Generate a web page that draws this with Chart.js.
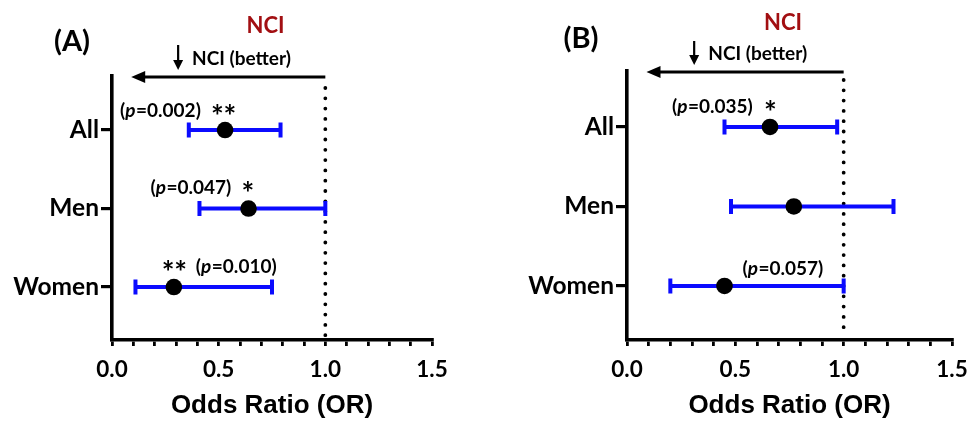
<!DOCTYPE html>
<html><head><meta charset="utf-8">
<script src="https://cdn.jsdelivr.net/npm/chart.js@4.4.1/dist/chart.umd.min.js"></script>
<style>
html,body{margin:0;padding:0;background:#fff;overflow:hidden;width:968px;height:421px}
#wrap{position:relative;width:968px;height:421px;overflow:hidden;background:#fff}
canvas{position:absolute;top:0}
</style></head><body>
<div id="wrap">
<canvas id="cA" width="484" height="421" style="left:0"></canvas>
<canvas id="cB" width="520" height="421" style="left:484px"></canvas>
</div>
<script>
// ---- data ----
const categories = ['All', 'Men', 'Women'];
const orA   = [0.53, 0.64, 0.29];
const lowA  = [0.36, 0.41, 0.11];
const highA = [0.79, 1.00, 0.75];
const pA     = ['0.002', '0.047', '0.010'];
const starsA = ['**', '*', '**'];
const orB   = [0.66, 0.77, 0.45];
const lowB  = [0.45, 0.48, 0.20];
const highB = [0.97, 1.23, 1.00];
const pB     = ['0.035', '', '0.057'];
const starsB = ['*', '', ''];
const xTickLabels = ['0.0', '0.5', '1.0', '1.5'];
const xMin = 0, xMax = 1.5, xStep = 0.1;
const refValue = 1.0;
const arrowTipValue = 0.09;
const axisTitle = 'Odds Ratio (OR)';
const headline = 'NCI';
const betterText = 'NCI (better)';

const F = 'Lato, "Open Sans", sans-serif';
const BLUE = '#0b0bff';
const RED = '#a20f12';

// layout per panel (pixels in each canvas)
const panels = [
  { id: 'cA', tag: '(A)', W: 484, L: 112, R: 432, T: 76, B: 340, yMin: -0.688, yMax: 2.675,
    tagX: 72, tagY: 51, nciY: 33, betterY: 65, downTop: 45, downBot: 70, arrowY: 77, dotTop: 88,
    or: orA, low: lowA, high: highA, p: pA, stars: starsA,
    ann: [ {pdx: -105, sdx: -13, dy: -13}, {pdx: -98, sdx: -6, dy: -15}, {pdx: 22, sdx: -11, dy: -14} ] },
  { id: 'cB', tag: '(B)', W: 520, L: 143, R: 468, T: 71, B: 340, yMin: -0.704, yMax: 2.68,
    tagX: 97, tagY: 48, nciY: 30, betterY: 60, downTop: 41, downBot: 65, arrowY: 72, dotTop: 80,
    or: orB, low: lowB, high: highB, p: pB, stars: starsB,
    ann: [ {pdx: -98, sdx: -5, dy: -14}, null, {pdx: 18, sdx: 0, dy: -11} ] }
];

const forestPlugin = {
  id: 'forest',
  beforeDatasetsDraw(chart, args, o) {
    const ctx = chart.ctx, xs = chart.scales.x, ys = chart.scales.y;
    ctx.save();
    // dotted reference line
    const xr = xs.getPixelForValue(refValue);
    ctx.strokeStyle = '#000'; ctx.lineWidth = 3.8; ctx.lineCap = 'round';
    ctx.setLineDash([0, 10.3]);
    ctx.beginPath(); ctx.moveTo(xr, o.dotTop); ctx.lineTo(xr, ys.bottom - 4); ctx.stroke();
    ctx.setLineDash([]);
    // error bars
    ctx.strokeStyle = BLUE; ctx.lineWidth = 4; ctx.lineCap = 'butt';
    o.low.forEach((lo, i) => {
      const y = ys.getPixelForValue(i);
      const a = xs.getPixelForValue(lo), b = xs.getPixelForValue(o.high[i]);
      ctx.beginPath();
      ctx.moveTo(a, y); ctx.lineTo(b, y);
      ctx.moveTo(a, y - 7.5); ctx.lineTo(a, y + 7.5);
      ctx.moveTo(b, y - 7.5); ctx.lineTo(b, y + 7.5);
      ctx.stroke();
    });
    ctx.restore();
  },
  afterDraw(chart, args, o) {
    const ctx = chart.ctx, xs = chart.scales.x, ys = chart.scales.y;
    ctx.save();
    ctx.fillStyle = '#000';
    ctx.textBaseline = 'alphabetic';
    // panel tag
    ctx.font = 'bold 29px ' + F; ctx.textAlign = 'center';
    ctx.fillText(o.tag, o.tagX, o.tagY);
    // NCI headline
    ctx.fillStyle = RED; ctx.font = 'bold 22px ' + F;
    ctx.fillText(headline, xs.getPixelForValue(0.72), o.nciY);
    // NCI (better)
    ctx.fillStyle = '#000'; ctx.font = 'bold 19px ' + F; ctx.textAlign = 'left';
    ctx.fillText(betterText, xs.getPixelForValue(0.375), o.betterY);
    // down arrow
    const dx = xs.getPixelForValue(0.31);
    ctx.strokeStyle = '#000'; ctx.lineWidth = 2.2;
    ctx.beginPath(); ctx.moveTo(dx, o.downTop); ctx.lineTo(dx, o.downBot - 6); ctx.stroke();
    ctx.beginPath(); ctx.moveTo(dx - 5, o.downBot - 10); ctx.lineTo(dx + 5, o.downBot - 10); ctx.lineTo(dx, o.downBot); ctx.closePath(); ctx.fill();
    // left arrow
    const x1 = xs.getPixelForValue(refValue), x0 = xs.getPixelForValue(arrowTipValue);
    ctx.lineWidth = 2.8;
    ctx.beginPath(); ctx.moveTo(x1, o.arrowY); ctx.lineTo(x0 + 8, o.arrowY); ctx.stroke();
    ctx.beginPath(); ctx.moveTo(x0, o.arrowY); ctx.lineTo(x0 + 14, o.arrowY - 6); ctx.lineTo(x0 + 14, o.arrowY + 6); ctx.closePath(); ctx.fill();
    // annotations
    o.ann.forEach((a, i) => {
      if (!a) return;
      const px = xs.getPixelForValue(o.or[i]), py = ys.getPixelForValue(i);
      const by = py + a.dy;
      if (o.p[i]) {
        let x = px + a.pdx;
        const runs = [['(', false], ['p', true], ['=' + o.p[i] + ')', false]];
        runs.forEach(([t, it]) => {
          ctx.font = (it ? 'italic ' : '') + 'bold 19px ' + F;
          ctx.fillText(t, x, by);
          x += ctx.measureText(t).width + (it ? 0.5 : 0);
        });
      }
      if (o.stars[i]) {
        ctx.font = 'bold 30px ' + F;
        let x = px + a.sdx - 1;
        for (const s of o.stars[i]) { ctx.fillText(s, x, by + 10); x += 12.5; }
      }
    });
    ctx.restore();
  }
};

panels.forEach(pn => {
  const canvas = document.getElementById(pn.id);
  new Chart(canvas, {
    type: 'scatter',
    data: {
      datasets: [{
        data: pn.or.map((v, i) => ({ x: v, y: i })),
        backgroundColor: '#000', borderColor: '#000', borderWidth: 0,
        pointRadius: 8.3, pointHoverRadius: 8.3
      }]
    },
    options: {
      responsive: false, animation: false, devicePixelRatio: 1,
      layout: { padding: { top: pn.T, right: pn.W - pn.R, left: 0, bottom: 0 } },
      plugins: {
        legend: { display: false }, tooltip: { enabled: false },
        forest: pn
      },
      scales: {
        x: {
          type: 'linear', min: xMin, max: xMax,
          afterFit: s => { s.height = 421 - pn.B; },
          ticks: {
            stepSize: xStep, autoSkip: false, maxRotation: 0, padding: 10,
            color: '#000', font: { family: F, size: 22.5, weight: 'bold' },
            callback: v => {
              const k = Math.round(v / 0.5);
              return Math.abs(v - k * 0.5) < 1e-6 ? xTickLabels[k] : '';
            }
          },
          grid: { drawOnChartArea: false, drawTicks: true, tickLength: 6, lineWidth: 2.8, color: '#000' },
          border: { display: true, width: 3.6, color: '#000' },
          title: { display: true, text: axisTitle, color: '#000', padding: { top: 0, bottom: 0 },
                   font: { family: '"Liberation Sans", Arial, sans-serif', size: 26, weight: 'bold' } }
        },
        y: {
          type: 'linear', reverse: true, min: pn.yMin, max: pn.yMax,
          afterFit: s => { s.width = pn.L; },
          afterBuildTicks: s => { s.ticks = categories.map((c, i) => ({ value: i })); },
          ticks: {
            padding: 2, color: '#000', font: { family: F, size: 24.5, weight: 'bold' },
            callback: v => categories[v]
          },
          grid: { drawOnChartArea: false, drawTicks: true, tickLength: 11, lineWidth: 3.2, color: '#000' },
          border: { display: true, width: 3.6, color: '#000' }
        }
      }
    },
    plugins: [forestPlugin]
  });
});
</script>
</body></html>
